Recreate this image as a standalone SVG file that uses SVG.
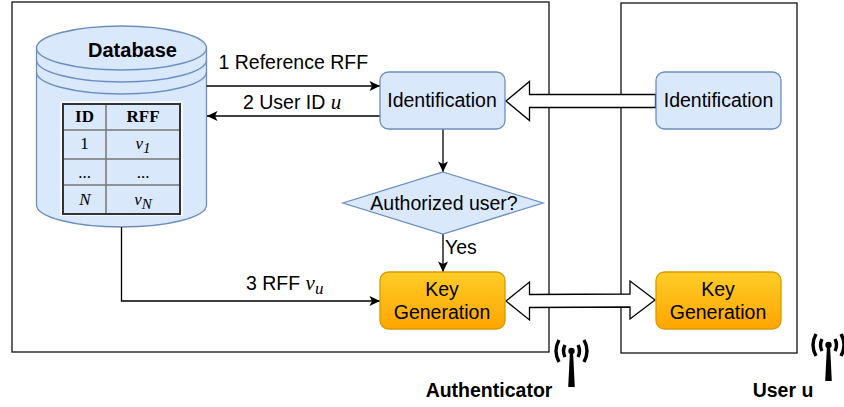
<svg xmlns="http://www.w3.org/2000/svg" width="844" height="407" viewBox="0 0 844 407">
<style>
.s{font-family:"Liberation Sans",Arial,sans-serif;fill:#000}
.t{font-family:"Liberation Serif","Times New Roman",serif;fill:#000;font-size:17px;text-anchor:middle}
.i{font-family:"Liberation Serif","Times New Roman",serif;font-style:italic}
.b{font-family:"Liberation Sans",Arial,sans-serif;fill:#000;font-size:19.5px;text-anchor:middle}
.l{font-family:"Liberation Sans",Arial,sans-serif;fill:#000;font-size:19.5px}
.bold{font-weight:bold}
.blue{fill:#dae8fc;stroke:#6c8ebf;stroke-width:1.3}
.org{fill:url(#og);stroke:#d79b00;stroke-width:1.3}
.frame{fill:none;stroke:#111;stroke-width:1.3}
.c{fill:none;stroke:#000;stroke-width:1.3}
.fat{fill:#fff;stroke:#000;stroke-width:1.3;stroke-linejoin:miter}
.grid{stroke:#777;stroke-width:1.5;fill:none}
</style>
<defs>
<linearGradient id="og" x1="0" y1="0" x2="0" y2="1"><stop offset="0" stop-color="#ffcd28"/><stop offset="1" stop-color="#ffa500"/></linearGradient>
<marker id="a" markerUnits="userSpaceOnUse" markerWidth="12" markerHeight="12" refX="11" refY="6" orient="auto"><path d="M0.5 1L11 6L0.5 11L3 6Z" fill="#000"/></marker>
<g id="ant"><path d="M-1.500 0L-3.300 36H3.300L1.500 0Z" fill="#000"/><circle cx="0" cy="0" r="3.200" fill="#000"/><path d="M-6.500-6Q-9.500 0-6.500 6M6.500-6Q9.500 0 6.500 6M-12.500-11Q-18.500 0-12.500 11M12.500-11Q18.500 0 12.500 11" fill="none" stroke="#000" stroke-width="3.400"/></g>
</defs>
<g id="frames">
<rect class="frame" x="12" y="2" width="537" height="350"/>
<rect class="frame" x="621" y="3" width="176" height="350"/>
</g>
<g id="database">
<path class="blue" d="M36.500 48C36.500 36 74.500 26 121.500 26S206.500 36 206.500 48V205C206.500 217 168.500 227 121.500 227S36.500 217 36.500 205Z"/>
<path class="blue" style="fill:none" d="M36.500 48C36.500 60 74.500 70 121.500 70S206.500 60 206.500 48M36.500 60C36.500 72 74.500 82 121.500 82S206.500 72 206.500 60M36.500 72C36.500 84 74.500 94 121.500 94S206.500 84 206.500 72"/>
<text class="s bold" x="132.500" y="57" font-size="20" text-anchor="middle">Database</text>
<rect x="61" y="102" width="121" height="113" fill="none" stroke="#fff" stroke-width="1.500"/>
<path class="grid" d="M106 104V214M63 130H180M63 159H180M63 185H180"/>
<rect x="63" y="104" width="117" height="110" fill="none" stroke="#333" stroke-width="2"/>
<text class="t bold" x="84.500" y="122">ID</text>
<text class="t bold" x="143" y="122">RFF</text>
<text class="t" x="84.500" y="149">1</text>
<text class="t i" x="143" y="149" font-size="19">v<tspan font-size="15" dy="4">1</tspan></text>
<text class="t" x="84.500" y="178">...</text>
<text class="t" x="143" y="178">...</text>
<text class="t i" x="85" y="205" font-size="19">N</text>
<text class="t i" x="143" y="205" font-size="19">v<tspan font-size="15" dy="4">N</tspan></text>
</g>
<g id="connectors">
<path class="c" d="M206.500 86H380" marker-end="url(#a)"/>
<path class="c" d="M380 116H207" marker-end="url(#a)"/>
<path class="c" d="M443 129V172" marker-end="url(#a)"/>
<path class="c" d="M443 234V272" marker-end="url(#a)"/>
<path class="c" d="M121.500 227V301H380" marker-end="url(#a)"/>
<path class="fat" d="M655.500 94.500V107.500H529.500V120.500L506 101L529.500 81.500V94.500Z"/>
<path class="fat" d="M506 301L529.500 282V294.500L630 294V281L655 300L630 319V307L529.500 307.500V320Z"/>
</g>
<g id="connector-labels">
<text class="l" x="218.500" y="69">1 Reference RFF</text>
<text class="l" x="243" y="109">2 User ID <tspan class="i" font-size="21">u</tspan></text>
<text class="l" x="246" y="290">3 RFF <tspan class="i" font-size="21">v<tspan font-size="17" dy="4">u</tspan></tspan></text>
<text class="l" x="445" y="254">Yes</text>
</g>
<g id="identification-a"><rect class="blue" x="380" y="72" width="125" height="57" rx="8.500"/><text class="b" x="442" y="107">Identification</text></g>
<g id="identification-u"><rect class="blue" x="656" y="72" width="125" height="57" rx="8.500"/><text class="b" x="718.500" y="107">Identification</text></g>
<g id="authorized"><path class="blue" d="M443 172L543 203L443 234L343 203Z"/><text class="b" x="444" y="210">Authorized user?</text></g>
<g id="keygen-a"><rect class="org" x="380" y="272" width="125" height="57" rx="8.500"/><text class="b" x="442" y="296">Key</text><text class="b" x="442" y="319">Generation</text></g>
<g id="keygen-u"><rect class="org" x="656" y="272" width="125" height="57" rx="8.500"/><text class="b" x="718" y="296">Key</text><text class="b" x="718" y="319">Generation</text></g>
<g id="authenticator"><use href="#ant" x="571.500" y="351"/><text class="s bold" x="489" y="397" font-size="19.500" text-anchor="middle">Authenticator</text></g>
<g id="user-u"><use href="#ant" x="828.500" y="345"/><text class="s bold" x="783" y="397" font-size="19.500" text-anchor="middle">User u</text></g>
</svg>
